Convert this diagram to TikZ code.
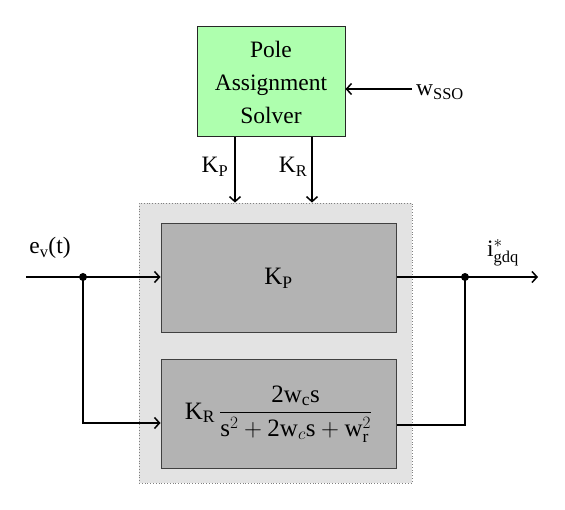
\documentclass[tikz,border=0pt]{standalone}
\usepackage{fontspec}
\usepackage{amsmath}
\setmainfont{Liberation Serif}
\usetikzlibrary{arrows.meta,calc}
\definecolor{pgreen}{RGB}{174,255,174}
\definecolor{outerg}{RGB}{227,227,227}
\definecolor{innerg}{RGB}{179,179,179}
\begin{document}
\begin{tikzpicture}[x=1pt,y=-1pt,
  conn/.style={line width=1.5pt,-{Straight Barb[length=5pt,width=11pt,line width=1.5pt]}},
  wire/.style={line width=1.5pt},
  lbl/.style={font=\fontsize{23.5}{26}\selectfont, inner sep=0pt},
  blk/.style={draw=black!75,line width=1pt,fill=innerg,minimum width=235pt,minimum height=109pt,inner sep=0pt}]
\useasboundingbox (0,0) rectangle (565,510);
% outer gray region
\node[draw=black!50,dotted,line width=0.8pt,fill=outerg,minimum width=273pt,minimum height=280pt] (outer) at (275.5,343) {};
% solver
\node[draw=black!85,line width=1pt,fill=pgreen,minimum width=148pt,minimum height=110pt,align=center,
  font=\fontsize{23.5}{33}\selectfont,inner sep=0pt] (pas) at (271,82) {Pole\\Assignment\\Solver};
% blocks
\node[blk,font=\fontsize{25}{27}\selectfont] (kp) at (278.5,278.5) {$\text{K}_{\text{P}}$};
\node[blk,font=\fontsize{25}{27}\selectfont] (kr) at (278.5,414) {$\text{K}_{\text{R}}\,\dfrac{\text{2w}_{\text{c}}\text{s}}{\text{s}^{2}+\text{2w}_{c}\text{s}+\text{w}_{\text{r}}^{2}}$};
% coordinates
\coordinate (in) at (26,277);
\coordinate (dl) at (83,277);
\coordinate (lowin) at (83,423);
\coordinate (dr) at (465,277);
\coordinate (lowout) at (465,425);
\coordinate (out) at (538,277);
\coordinate (wsrc) at (412,89);
\coordinate (kpx) at (235,0);
\coordinate (krx) at (312,0);
% connectors
\draw[conn] (wsrc) -- (pas.east |- wsrc);
\draw[conn] (pas.south -| kpx) -- (outer.north -| kpx);
\draw[conn] (pas.south -| krx) -- (outer.north -| krx);
\draw[conn] (in) -- (kp.west |- in);
\draw[conn] (dl) |- (kr.west |- lowin);
\draw[wire] (kp.east |- out) -- (dr);
\draw[conn] (dr) -- (out);
\draw[wire] (kr.east |- lowout) -| (dr);
\fill (dl) circle (4pt);
\fill (dr) circle (4pt);
% labels
\node[lbl,anchor=west] (wl) at (416,92) {w$_{\text{SSO}}$};
\node[lbl] (kpl) at (215,167) {K$_{\text{P}}$};
\node[lbl] (krl) at (293,167) {K$_{\text{R}}$};
\node[lbl] (evl) at (50,248) {e$_{\text{v}}$(t)};
\node[lbl] (il) at (503,253) {$\text{i}^{*}_{\text{gdq}}$};
\end{tikzpicture}
\end{document}
